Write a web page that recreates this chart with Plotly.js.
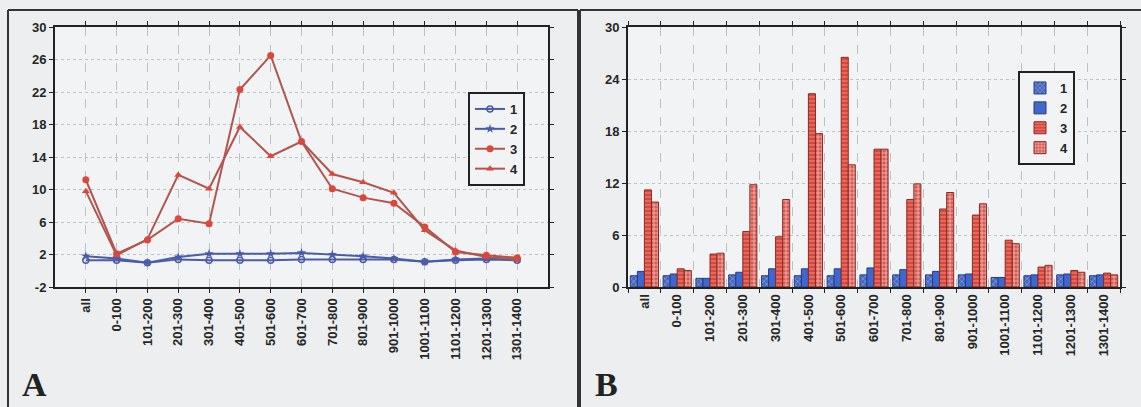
<!DOCTYPE html>
<html>
<head>
<meta charset="utf-8">
<script src="https://cdn.plot.ly/plotly-3.0.1.min.js"></script>
<style>html,body{margin:0;padding:0;background:#eceeef;}#chart{width:1141px;height:407px;}</style>
</head>
<body>
<div id="chart"></div>
<script>
const categories = ['all','0-100','101-200','201-300','301-400','401-500','501-600','601-700','701-800','801-900','901-1000','1001-1100','1101-1200','1201-1300','1301-1400'];
const series1 = [1.3, 1.3, 1.0, 1.4, 1.3, 1.3, 1.3, 1.4, 1.4, 1.4, 1.4, 1.1, 1.3, 1.4, 1.3];
const series2 = [1.8, 1.5, 1.0, 1.7, 2.1, 2.1, 2.1, 2.2, 2.0, 1.8, 1.5, 1.1, 1.4, 1.5, 1.4];
const series3 = [11.2, 2.1, 3.8, 6.4, 5.8, 22.3, 26.5, 15.9, 10.1, 9.0, 8.3, 5.4, 2.3, 1.9, 1.6];
const series4 = [9.8, 1.9, 3.9, 11.8, 10.1, 17.7, 14.1, 15.9, 11.9, 10.9, 9.6, 5.0, 2.5, 1.7, 1.4];
const seriesNames = ['1','2','3','4'];
const yTicksA = [-2, 2, 6, 10, 14, 18, 22, 26, 30];
const yTicksB = [0, 6, 12, 18, 24, 30];

const W = 1141, H = 407;
const px = v => v / W, py = v => 1 - v / H;
const bold = arr => arr.map(v => '<b>' + v + '</b>');

const tickFont = {family: 'Liberation Sans, Arial, sans-serif', size: 13, color: '#262626'};
const legFont = {family: 'Liberation Sans, Arial, sans-serif', size: 13, color: '#262626', weight: 700};

const traces = [
  {x: categories, y: series1, name: seriesNames[0], type: 'scatter', mode: 'lines+markers', xaxis: 'x', yaxis: 'y', legend: 'legend',
   line: {color: '#4a5ca8', width: 2}, marker: {symbol: 'circle-open', size: 6, color: '#4a5ca8', line: {width: 1.5}}},
  {x: categories, y: series2, name: seriesNames[1], type: 'scatter', mode: 'lines+markers', xaxis: 'x', yaxis: 'y', legend: 'legend',
   line: {color: '#4a5ca8', width: 2}, marker: {symbol: 'star', size: 7, color: '#4a5ca8'}},
  {x: categories, y: series3, name: seriesNames[2], type: 'scatter', mode: 'lines+markers', xaxis: 'x', yaxis: 'y', legend: 'legend',
   line: {color: '#b0564e', width: 2}, marker: {symbol: 'circle', size: 7, color: '#e0453a'}},
  {x: categories, y: series4, name: seriesNames[3], type: 'scatter', mode: 'lines+markers', xaxis: 'x', yaxis: 'y', legend: 'legend',
   line: {color: '#b0564e', width: 2}, marker: {symbol: 'triangle-up', size: 7, color: '#e0453a'}},

  {x: categories, y: series1, name: seriesNames[0], type: 'bar', xaxis: 'x2', yaxis: 'y2', legend: 'legend2',
   marker: {color: '#4467c4', line: {color: '#283c80', width: 1},
     pattern: {shape: 'x', bgcolor: '#4467c4', fgcolor: '#9fb2ea', fillmode: 'replace', size: 4, solidity: 0.25}}},
  {x: categories, y: series2, name: seriesNames[1], type: 'bar', xaxis: 'x2', yaxis: 'y2', legend: 'legend2',
   marker: {color: '#3f67d0', line: {color: '#283c80', width: 1}}},
  {x: categories, y: series3, name: seriesNames[2], type: 'bar', xaxis: 'x2', yaxis: 'y2', legend: 'legend2',
   marker: {color: '#d9473b', line: {color: '#8a2a22', width: 1},
     pattern: {shape: '-', bgcolor: '#d9473b', fgcolor: '#f0a098', fillmode: 'replace', size: 4, solidity: 0.2}}},
  {x: categories, y: series4, name: seriesNames[3], type: 'bar', xaxis: 'x2', yaxis: 'y2', legend: 'legend2',
   marker: {color: '#d65a52', line: {color: '#8a2a22', width: 1},
     pattern: {shape: '+', bgcolor: '#d65a52', fgcolor: '#f7cdc8', fillmode: 'replace', size: 4, solidity: 0.3}}}
];

const axisCommon = {
  showline: true, linecolor: '#222', linewidth: 2, mirror: 'ticks',
  ticks: 'outside', ticklen: 4, tickcolor: '#222', tickwidth: 1,
  tickfont: tickFont, gridcolor: '#bcc1c6', griddash: 'dot', gridwidth: 1, zeroline: false
};

const layout = {
  width: W, height: H,
  margin: {l: 0, r: 0, t: 0, b: 0},
  paper_bgcolor: '#eceeef', plot_bgcolor: '#f1f3f5',
  barmode: 'group', bargap: 0.14, bargroupgap: 0,
  xaxis: Object.assign({}, axisCommon, {domain: [px(55), px(548)], type: 'category', range: [-1, 15], tickangle: -90,
    tickmode: 'array', tickvals: categories, ticktext: bold(categories), griddash: 'dash', anchor: 'y'}),
  yaxis: Object.assign({}, axisCommon, {domain: [py(287), py(27)], range: [-2, 30], tickmode: 'array',
    tickvals: yTicksA, ticktext: bold(yTicksA), anchor: 'x'}),
  xaxis2: Object.assign({}, axisCommon, {domain: [px(628), px(1120)], type: 'category', range: [-0.5, 14.5], tickangle: -90,
    tickmode: 'array', tickvals: categories, ticktext: bold(categories), tickson: 'boundaries', griddash: 'dash', anchor: 'y2'}),
  yaxis2: Object.assign({}, axisCommon, {domain: [py(287), py(27)], range: [0, 30], tickmode: 'array',
    tickvals: yTicksB, ticktext: bold(yTicksB), anchor: 'x2'}),
  legend: {x: px(468), y: py(92), xanchor: 'left', yanchor: 'top', bgcolor: '#f1f3f5', bordercolor: '#222', borderwidth: 2,
    font: legFont, itemwidth: 30, tracegroupgap: 0},
  legend2: {x: px(1018), y: py(71), xanchor: 'left', yanchor: 'top', bgcolor: '#f1f3f5', bordercolor: '#222', borderwidth: 2,
    font: legFont, itemwidth: 30, tracegroupgap: 0},
  showlegend: true,
  shapes: [
    {type: 'line', xref: 'paper', yref: 'paper', x0: px(8), x1: px(578), y0: py(10), y1: py(10), line: {color: '#333', width: 2}},
    {type: 'line', xref: 'paper', yref: 'paper', x0: px(8), x1: px(8), y0: py(10), y1: 0, line: {color: '#333', width: 2}},
    {type: 'line', xref: 'paper', yref: 'paper', x0: px(578), x1: px(578), y0: py(10), y1: 0, line: {color: '#333', width: 2}},
    {type: 'line', xref: 'paper', yref: 'paper', x0: px(580), x1: 1, y0: py(10), y1: py(10), line: {color: '#333', width: 2}},
    {type: 'line', xref: 'paper', yref: 'paper', x0: px(580), x1: px(580), y0: py(10), y1: 0, line: {color: '#333', width: 2}}
  ],
  annotations: [
    {text: 'A', xref: 'paper', yref: 'paper', x: px(20), y: py(405), xanchor: 'left', yanchor: 'bottom', showarrow: false,
     font: {family: 'Liberation Serif, Times New Roman, serif', size: 34, color: '#222', weight: 700}},
    {text: 'B', xref: 'paper', yref: 'paper', x: px(593), y: py(405), xanchor: 'left', yanchor: 'bottom', showarrow: false,
     font: {family: 'Liberation Serif, Times New Roman, serif', size: 34, color: '#222', weight: 700}}
  ]
};

Plotly.newPlot('chart', traces, layout, {displayModeBar: false, staticPlot: true});
</script>
</body>
</html>
